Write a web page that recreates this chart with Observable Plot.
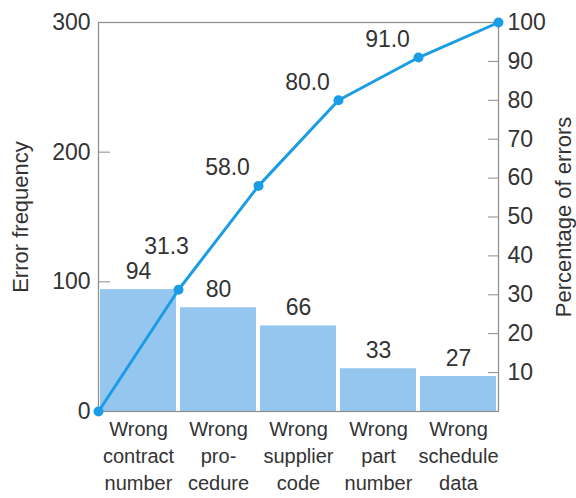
<!DOCTYPE html>
<html>
<head>
<meta charset="utf-8">
<script src="https://cdn.jsdelivr.net/npm/d3@7"></script>
<script src="https://cdn.jsdelivr.net/npm/@observablehq/plot@0.6"></script>
<style>
  html, body { margin: 0; padding: 0; background: #fff; }
</style>
</head>
<body>
<div id="chart"></div>
<script>
const categories = [
  "Wrong\ncontract\nnumber",
  "Wrong\npro-\ncedure",
  "Wrong\nsupplier\ncode",
  "Wrong\npart\nnumber",
  "Wrong\nschedule\ndata"
];
const frequencies = [94, 80, 66, 33, 27];
const cumulativePct = [0, 31.3, 58.0, 80.0, 91.0, 100];
const leftTicks = [0, 100, 200, 300];
const rightTicks = [10, 20, 30, 40, 50, 60, 70, 80, 90, 100];
const total = 300;

const bars = categories.map((c, i) => ({i, c, f: frequencies[i]}));
const cum = cumulativePct.map((p, i) => ({i, p, y: p * total / 100}));

const font = "'Liberation Sans', Arial, sans-serif";
const textColor = "#333";
const lineColor = "#1a9de4";

const chart = Plot.plot({
  width: 576,
  height: 498,
  marginLeft: 98,
  marginRight: 78,
  marginTop: 22,
  marginBottom: 87,
  style: {fontFamily: font, color: textColor, background: "#fff", overflow: "visible"},
  x: {domain: [0, categories.length], axis: null},
  y: {domain: [0, total]},
  marks: [
    Plot.rect(bars, {x1: d => d.i, x2: d => d.i + 1, y1: 0, y2: "f", fill: "#95c6ef", insetLeft: 2, insetRight: 2}),
    Plot.frame({stroke: "#8a8a8a", strokeWidth: 1.2}),
    Plot.axisY({
      anchor: "left", ticks: leftTicks, tickSize: -12, tickPadding: 20,
      fontSize: 23, stroke: "#8a8a8a",
      label: "Error frequency", labelAnchor: "center", labelArrow: "none", labelOffset: 86
    }),
    Plot.axisY({
      anchor: "right", ticks: rightTicks.map(t => t * total / 100), tickFormat: d => String(Math.round(d * 100 / total)),
      tickSize: -11, tickPadding: 20, fontSize: 23, stroke: "#8a8a8a",
      label: "Percentage of errors", labelAnchor: "center", labelArrow: "none", labelOffset: 72
    }),
    Plot.line(cum, {x: "i", y: "y", stroke: lineColor, strokeWidth: 3}),
    Plot.dot(cum, {x: "i", y: "y", r: 5, fill: lineColor}),
    Plot.text(bars, {x: d => d.i + 0.5, y: "f", text: d => String(d.f), dy: -18, fontSize: 23, fill: textColor}),
    Plot.text(cum.filter(d => d.i === 1), {x: "i", y: "y", text: d => d.p.toFixed(1), dx: -12, dy: -43, fontSize: 23, fill: textColor}),
    Plot.text(cum.filter(d => d.i >= 2 && d.i <= 4), {x: "i", y: "y", text: d => d.p.toFixed(1), dx: -31, dy: -18, fontSize: 23, fill: textColor}),
    Plot.text(bars, {x: d => d.i + 0.5, y: 0, text: "c", lineAnchor: "top", dy: 5, fontSize: 20, lineHeight: 1.35, fill: textColor})
  ]
});
chart.querySelectorAll("[aria-label='y-axis label'] text").forEach(t => t.setAttribute("font-size", "22"));
document.getElementById("chart").appendChild(chart);
</script>
</body>
</html>
